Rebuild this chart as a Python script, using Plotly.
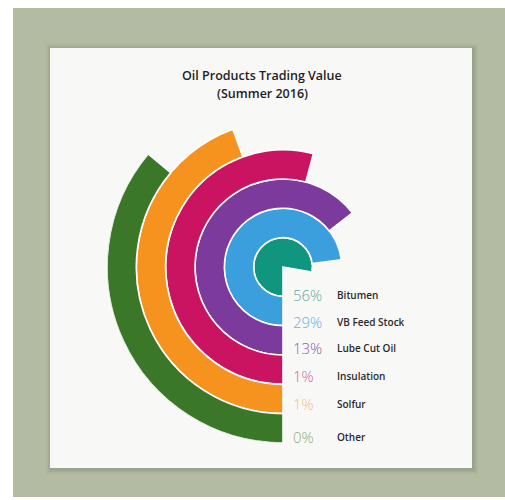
import plotly.graph_objects as go

# Data
categories = ["Bitumen", "VB Feed Stock", "Lube Cut Oil", "Insulation", "Solfur", "Other"]
shares = [56, 29, 13, 1, 1, 0]                    # percent of trading value
sweep_deg = [280, 263, 232, 195, 160, 130]        # arc sweep of each ring (clockwise from 6 o'clock)
ring_colors = ["#10957f", "#3a9fdc", "#7b3a9c", "#cb1461", "#f6931f", "#3b7729"]
pct_colors = ["#5fa9a3", "#62b3e6", "#8b5eab", "#d8638f", "#f6c07e", "#8fae76"]

W, H = 505, 500
CX, CY, R_OUT = 283, 267, 176      # chart centre and outer radius, px
ring_w = R_OUT / len(categories)

fig = go.Figure()

for i, (cat, sw, col) in enumerate(zip(categories, sweep_deg, ring_colors)):
    fig.add_trace(go.Barpolar(
        r=[ring_w],
        base=[i * ring_w],
        theta=[sw / 2],
        width=[sw],
        marker=dict(color=col, line=dict(color="#ffffff", width=1.6)),
        name=cat,
        hoverinfo="name",
        showlegend=False,
    ))

shapes = [
    # sage backdrop
    dict(type="rect", xref="paper", yref="paper", x0=13 / W, x1=1.0,
         y0=1 - 497 / H, y1=1 - 8 / H, fillcolor="#b3bca3", line_width=0, layer="below"),
]
# soft shadow around the card
for k, a in [(5, 0.05), (3, 0.07), (1.5, 0.09)]:
    shapes.append(dict(type="rect", xref="paper", yref="paper",
                       x0=(50 - k + 1) / W, x1=(472 + k + 1) / W,
                       y0=1 - (468 + k + 1) / H, y1=1 - (48 - k + 1) / H,
                       fillcolor=f"rgba(60,70,50,{a})", line_width=0, layer="below"))
# white card
shapes.append(dict(type="rect", xref="paper", yref="paper", x0=50 / W, x1=472 / W,
                   y0=1 - 468 / H, y1=1 - 48 / H, fillcolor="#f8f8f7", line_width=0,
                   layer="below"))

annotations = [
    dict(text="Oil Products Trading Value", x=262 / W, y=1 - 75 / H, xref="paper", yref="paper",
         showarrow=False, xanchor="center", yanchor="middle",
         font=dict(family="Open Sans", size=12.5, color="#1e1e1e", weight=600)),
    dict(text="(Summer 2016)", x=262 / W, y=1 - 94 / H, xref="paper", yref="paper",
         showarrow=False, xanchor="center", yanchor="middle",
         font=dict(family="Open Sans", size=12.5, color="#1e1e1e", weight=600)),
]

row_y = [295, 322, 348, 376, 404, 437]
for cat, pct, pc, yy in zip(categories, shares, pct_colors, row_y):
    annotations.append(dict(text=f"{pct}%", x=291 / W, y=1 - yy / H, xref="paper", yref="paper",
                            showarrow=False, xanchor="left", yanchor="middle",
                            font=dict(family="Open Sans", size=15, color=pc, weight=300)))
    annotations.append(dict(text=cat, x=335 / W, y=1 - yy / H, xref="paper", yref="paper",
                            showarrow=False, xanchor="left", yanchor="middle",
                            font=dict(family="Open Sans", size=10, color="#2a2a2a", weight=600)))

fig.update_layout(
    width=W, height=H,
    margin=dict(l=0, r=0, t=0, b=0),
    paper_bgcolor="#ffffff",
    plot_bgcolor="rgba(0,0,0,0)",
    shapes=shapes,
    annotations=annotations,
    polar=dict(
        domain=dict(x=[(CX - R_OUT) / W, (CX + R_OUT) / W],
                    y=[1 - (CY + R_OUT) / H, 1 - (CY - R_OUT) / H]),
        bgcolor="rgba(0,0,0,0)",
        hole=0,
        radialaxis=dict(range=[0, R_OUT], visible=False),
        angularaxis=dict(rotation=270, direction="clockwise", visible=False,
                         showgrid=False, showline=False, ticks=""),
        bargap=0,
    ),
)

fig.write_html("out.html")
